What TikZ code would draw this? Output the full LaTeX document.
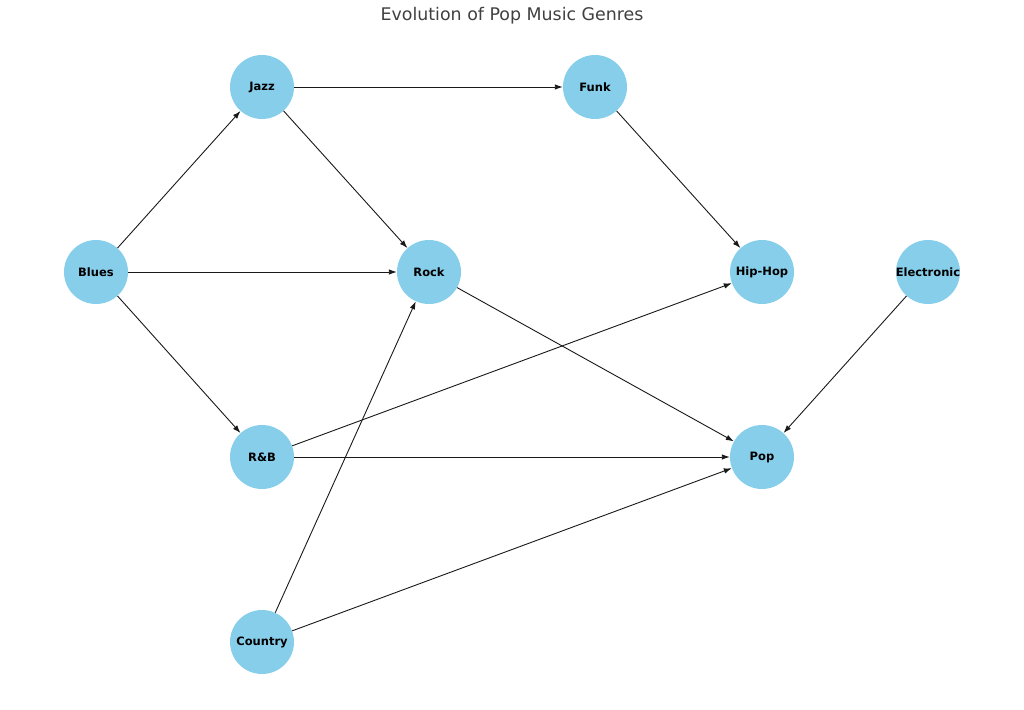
\documentclass[tikz,border=0pt]{standalone}
\usepackage{fontspec}
\setmainfont{DejaVu Sans}
\usetikzlibrary{arrows.meta}
\definecolor{skyb}{HTML}{87CEEB}
\newcommand{\gtxt}[1]{\makebox[0pt][c]{#1}}
\begin{document}
\begin{tikzpicture}[x=1pt,y=-1pt,
  genre/.style={circle,fill=skyb,minimum size=64pt,inner sep=0pt,font=\fontsize{11.5}{13}\selectfont\bfseries},
  edge/.style={-{Latex[length=8pt,width=5.5pt]},line width=0.9pt,black!90}]
\useasboundingbox (0,0) rectangle (1024,709);
\node[font=\fontsize{17.4}{20}\selectfont,text=black!75] (title) at (512,16) {Evolution of Pop Music Genres};
\node[genre] (jazz) at (262,87) {\gtxt{Jazz}};
\node[genre] (funk) at (595,87) {\gtxt{Funk}};
\node[genre] (blues) at (96,272) {\gtxt{Blues}};
\node[genre] (rock) at (429,272) {\gtxt{Rock}};
\node[genre] (hiphop) at (762,272) {\gtxt{Hip-Hop}};
\node[genre] (elec) at (928,272) {\gtxt{Electronic}};
\node[genre] (rnb) at (262,457) {\gtxt{R\&B}};
\node[genre] (pop) at (762,457) {\gtxt{Pop}};
\node[genre] (country) at (262,642) {\gtxt{Country}};
\draw[edge] (blues) -- (jazz);
\draw[edge] (blues) -- (rock);
\draw[edge] (blues) -- (rnb);
\draw[edge] (jazz) -- (funk);
\draw[edge] (jazz) -- (rock);
\draw[edge] (funk) -- (hiphop);
\draw[edge] (rock) -- (pop);
\draw[edge] (rnb) -- (hiphop);
\draw[edge] (rnb) -- (pop);
\draw[edge] (country) -- (rock);
\draw[edge] (country) -- (pop);
\draw[edge] (elec) -- (pop);
\end{tikzpicture}
\end{document}
